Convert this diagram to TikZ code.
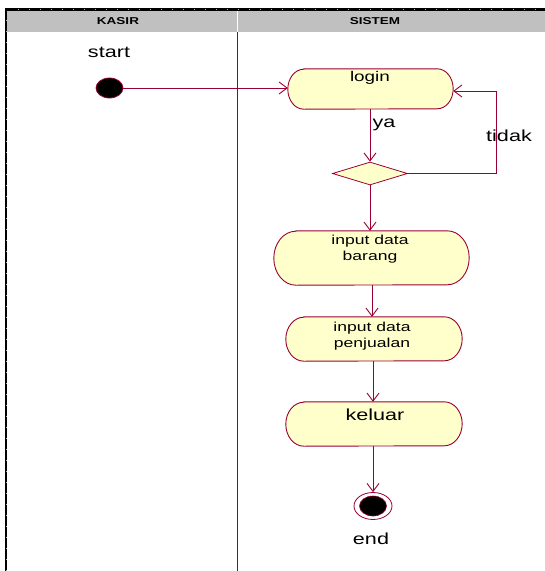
\documentclass[tikz,border=0pt]{standalone}
\usepackage{fontspec}
\setmainfont{Liberation Sans}[FakeStretch=1.35]
\usetikzlibrary{shapes.geometric,arrows.meta,calc}
\definecolor{umlred}{RGB}{153,0,51}
\definecolor{umlfill}{RGB}{255,255,204}
\definecolor{hdr}{RGB}{192,192,192}
% #1 node name, #2 end extension, #3 half height
\newcommand\actoutline[3]{%
  \filldraw[actline] ($(#1.north west)+(#2,0)$) -- ($(#1.north east)+(-#2,0)$)
    arc[start angle=90,end angle=-90,x radius=#2pt,y radius=#3pt]
    -- ($(#1.south west)+(#2,0)$)
    arc[start angle=270,end angle=90,x radius=#2pt,y radius=#3pt] -- cycle;}
\begin{document}
\begin{tikzpicture}[x=1pt,y=-1pt,
  actbox/.style={rectangle, inner sep=0pt},
  actline/.style={draw=umlred, fill=umlfill, line width=0.9pt},
  flow/.style={draw=umlred, line width=0.9pt, -{Straight Barb[length=8pt,width=12pt]}},
  txt/.style={inner sep=0pt, font=\fontsize{16}{18}\selectfont},
  acttxt/.style={inner sep=0pt, align=center, font=\fontsize{13}{16}\selectfont},
  hdrtxt/.style={inner sep=0pt, font=\bfseries\fontsize{10}{12}\selectfont}]
\useasboundingbox (0,0) rectangle (545,571);
% swimlane frame
\fill[hdr] (7,11) rectangle (545,31.5);
\draw[white, line width=1pt] (237,11) -- (237,31.5);
\draw[umlred, line width=0.9pt] (237,31.5) -- (237,571);
\draw[line width=2.6pt] (5,9.3) -- (545,9.3);
\draw[gray!60, line width=0.8pt, dash pattern=on 1pt off 10pt] (18,9.3) -- (545,9.3);
\draw[line width=2pt] (6,8) -- (6,571);
\draw[gray!60, line width=0.8pt, dash pattern=on 1pt off 10pt] (6,20) -- (6,571);
\node[hdrtxt] (hk) at (118,21) {KASIR};
\node[hdrtxt] (hs) at (375,21) {SISTEM};
% activity boxes
\node[actbox, minimum width=165pt, minimum height=40pt] (login) at (370.5,89) {};
\actoutline{login}{16}{20}
\node[actbox, minimum width=195pt, minimum height=54pt] (barang) at (371.5,258) {};
\actoutline{barang}{22}{27}
\node[actbox, minimum width=176pt, minimum height=44pt] (jual) at (374,339) {};
\actoutline{jual}{18}{22}
\node[actbox, minimum width=176pt, minimum height=44pt] (keluar) at (374,424) {};
\actoutline{keluar}{18}{22}
% texts and other nodes
\node[inner sep=0pt, font=\fontsize{14}{16}\selectfont] (logintxt) at (370,78) {login};
\node[acttxt] (barangtxt) at (370,249) {input data\\barang};
\node[acttxt] (jualtxt) at (372,336) {input data\\penjualan};
\node[txt] (keluartxt) at (375,415) {keluar};
\node[txt] (starttxt) at (109,52) {start};
\node[ellipse, draw=umlred, fill=black, line width=0.8pt, minimum width=27pt, minimum height=20pt, inner sep=0pt] (start) at (109.5,88) {};
\node[diamond, draw=umlred, fill=umlfill, line width=0.8pt, minimum width=75pt, minimum height=23pt, inner sep=0pt] (dec) at (370,173.5) {};
\node[ellipse, draw=umlred, fill=white, line width=0.8pt, minimum width=38pt, minimum height=27pt, inner sep=0pt] (end) at (373,506) {};
\node[ellipse, draw=umlred, fill=black, line width=0.6pt, minimum width=27pt, minimum height=20pt, inner sep=0pt] (endin) at (373,506) {};
\node[txt] (endtxt) at (371,539) {end};
\node[txt] (ya) at (384,125) {ya};
\node[txt] (tidak) at (509,136) {tidak};
\coordinate (loopc) at (496,173.5);
% connectors
\draw[flow] (start.east) -- (start.east -| login.west);
\draw[flow] (login.south -| dec.north) -- (dec.north);
\draw[flow] (dec.east) -- (loopc) |- ($(login.east)+(0,2)$);
\draw[flow] (dec.south) -- (dec.south |- barang.north);
\draw[flow] (barang.south -| 372,0) -- (372,0 |- jual.north);
\draw[flow] (jual.south -| 373,0) -- (373,0 |- keluar.north);
\draw[flow] (keluar.south -| end.north) -- (end.north);
\end{tikzpicture}
\end{document}
